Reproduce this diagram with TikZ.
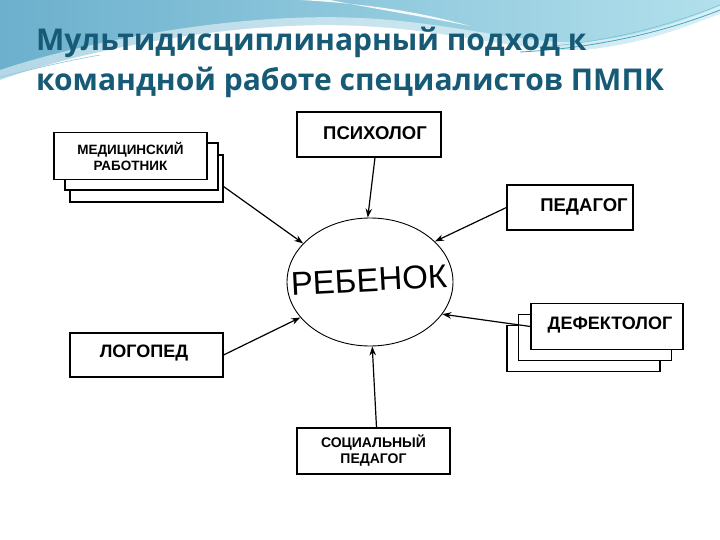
\documentclass[tikz,border=0pt]{standalone}
\usepackage{fontspec}
\setmainfont{Liberation Sans}
\newfontfamily\titlefont{Open Sans}
\usetikzlibrary{arrows.meta,shapes.geometric}
\definecolor{titlecol}{RGB}{22,90,118}
\definecolor{bgA}{RGB}{108,176,205}
\definecolor{bgB}{RGB}{178,224,236}
\definecolor{streak}{RGB}{70,165,195}
\tikzset{
  card/.style={draw=black, line width=1.1pt, fill=white, minimum width=#1, inner sep=0pt, align=center, font=\bfseries},
  card/.default=153pt,
  lbl/.style={inner sep=0pt, align=center},
  conn/.style={draw=black, line width=1.2pt, -{Stealth[length=9pt,width=6.5pt]}},
}
\begin{document}
\begin{tikzpicture}[x=1pt,y=-1pt]
\useasboundingbox (0,0) rectangle (720,540);
\fill[white] (0,0) rectangle (720,540);
% background top decoration
\shade[left color=bgA, right color=bgB] (0,0) -- (720,0) -- (720,540) -- (0,540) -- cycle;
\fill[white] (0,80) .. controls (90,48) and (240,20) .. (360,26)
  .. controls (450,30) and (520,52) .. (580,50)
  .. controls (640,46) and (690,25) .. (720,14) -- (720,540) -- (0,540) -- cycle;
\fill[white, opacity=0.5] (0,70) .. controls (90,40) and (240,12) .. (360,18)
  .. controls (450,22) and (520,44) .. (580,42)
  .. controls (640,38) and (690,18) .. (720,6) -- (720,40) -- (0,90) -- cycle;
\fill[white, opacity=0.9] (300,0) .. controls (370,4) and (420,12) .. (470,26)
  .. controls (420,16) and (370,8) .. (330,0) -- cycle;
\draw[streak, line width=0.8pt] (520,52) .. controls (600,48) and (670,30) .. (720,10);
\draw[streak!70, line width=0.6pt] (540,47) .. controls (610,42) and (670,25) .. (720,5);
\draw[streak!60, line width=0.6pt] (0,77) .. controls (30,70) and (60,62) .. (100,55);
% title
\node[anchor=base west, inner sep=0pt, text=titlecol, font=\titlefont\bfseries\fontsize{30}{34}\selectfont] (t1) at (36,51) {Мультидисциплинарный подход к};
\node[anchor=base west, inner sep=0pt, text=titlecol, font=\titlefont\bfseries\fontsize{30}{34}\selectfont] (t2) at (36,91) {командной работе специалистов ПМПК};
% centre
\node[draw=black, line width=0.9pt, ellipse, minimum width=166pt, minimum height=128pt, inner sep=0pt, fill=white] (child) at (370,282) {};
\node[rotate=3, font=\fontsize{33}{33}\selectfont, inner sep=0pt] (childtxt) at (369,280) {РЕБЕНОК};
% boxes
\node[card, minimum height=45pt, minimum width=144pt] (psy) at (369,134.5) {};
\node[lbl, font=\bfseries\fontsize{18.5}{20}\selectfont] (psyt) at (375,133.5) {ПСИХОЛОГ};
\node[card, minimum height=47pt] (med3) at (146.5,178.5) {};
\node[card, minimum height=47pt] (med2) at (141.5,166.5) {};
\node[card, minimum height=47pt, font=\bfseries\fontsize{13.5}{16}\selectfont] (med) at (130.5,156) {МЕДИЦИНСКИЙ\\РАБОТНИК};
\node[card, minimum height=45pt, minimum width=126pt] (ped) at (570,207.5) {};
\node[lbl, font=\bfseries\fontsize{18.5}{20}\selectfont] (pedt) at (584,206.5) {ПЕДАГОГ};
\node[card, minimum height=46pt, minimum width=153pt] (def3) at (583.5,348.5) {};
\node[card, minimum height=46pt, minimum width=153pt] (def2) at (595,337.5) {};
\node[card, minimum height=46pt, minimum width=152pt] (def) at (607,326.5) {};
\node[lbl, font=\bfseries\fontsize{18}{20}\selectfont] (deft) at (610,325.5) {ДЕФЕКТОЛОГ};
\node[card, minimum height=44pt] (log) at (146.5,355) {};
\node[lbl, font=\bfseries\fontsize{18}{20}\selectfont] (logt) at (144,353) {ЛОГОПЕД};
\node[card, minimum height=46pt, font=\bfseries\fontsize{14}{16}\selectfont] (soc) at (373.5,451) {СОЦИАЛЬНЫЙ\\ПЕДАГОГ};
% connectors
\draw[conn] ([xshift=6pt]psy.south) -- (child.92);
\draw[conn] ([yshift=-8pt]med3.east) -- (child.150);
\draw[conn] (ped.west) -- (child.32);
\draw[conn] (def.west) -- (child.-24);
\draw[conn] (log.east) -- (child.207);
\draw[conn] ([xshift=3pt]soc.north) -- (child.-88);
\end{tikzpicture}
\end{document}
